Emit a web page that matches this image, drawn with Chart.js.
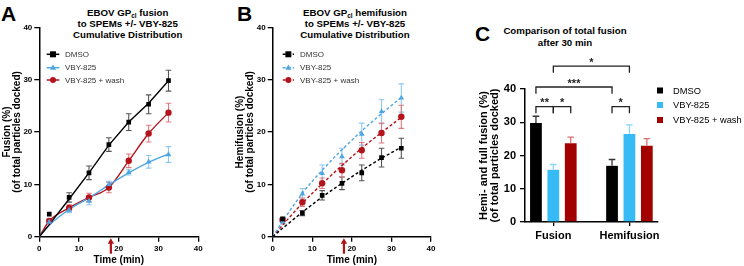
<!DOCTYPE html>
<html><head><meta charset="utf-8">
<script src="https://cdn.jsdelivr.net/npm/chart.js@4.4.1/dist/chart.umd.min.js"></script>
<style>
html,body{margin:0;padding:0;background:#fff;}
body{width:744px;height:266px;position:relative;overflow:hidden;font-family:'Liberation Sans',Arial,sans-serif;}
canvas{position:absolute;top:0;}
.letter{position:absolute;font-weight:bold;font-size:21px;line-height:1;color:#000;}
.title{position:absolute;width:200px;font-weight:bold;font-size:9.7px;line-height:11.2px;text-align:center;color:#000;white-space:nowrap;}
.title sub{font-size:6.5px;vertical-align:-2px;line-height:0;}
</style></head><body>
<div class="letter" style="left:1px;top:3px">A</div>
<div class="letter" style="left:237px;top:3px">B</div>
<div class="letter" style="left:475px;top:23px">C</div>
<div class="title" style="left:27.7px;top:7px">EBOV GP<sub>cl</sub> fusion<br>to SPEMs +/- VBY-825<br>Cumulative Distribution</div>
<div class="title" style="left:255px;top:7px">EBOV GP<sub>cl</sub> hemifusion<br>to SPEMs +/- VBY-825<br>Cumulative Distribution</div>
<div class="title" style="left:465px;top:25.3px">Comparison of total fusion<br>after 30 min</div>
<canvas id="cA" width="233" height="266" style="left:0;width:233px;height:266px"></canvas>
<canvas id="cB" width="233" height="266" style="left:233px;width:233px;height:266px"></canvas>
<canvas id="cC" width="278" height="266" style="left:466px;width:278px;height:266px"></canvas>
<script>
// ---------- data ----------
const seriesNames = ['DMSO', 'VBY-825', 'VBY-825 + wash'];
const times = [2.5, 7.5, 12.5, 17.5, 22.5, 27.5, 32.5];
const fitTimes = [0, 2.5, 7.5, 12.5, 17.5, 22.5, 27.5, 32.5];
const timeTicks = [0, 10, 20, 30, 40];
const percentTicks = [0, 10, 20, 30, 40];
const washTime = 18;

// Panel A: fusion
const fusionDMSO = [4.3, 7.5, 12.2, 17.6, 21.9, 25.3, 29.8];
const fusionDMSOErr = [0, 0.9, 1.3, 1.3, 1.6, 1.8, 2.0];
const fusionVBY = [2.8, 5.1, 6.8, 10.0, 12.3, 14.3, 15.7];
const fusionVBYErr = [0.3, 0.5, 0.7, 0.6, 0.5, 1.2, 1.5];
const fusionWash = [3.0, 5.5, 7.5, 9.4, 14.5, 19.7, 23.7];
const fusionWashErr = [0.3, 0.6, 0.8, 1.0, 1.3, 1.6, 1.8];
const fusionDMSOFit = [0, 2.3, 7.2, 12.2, 17.5, 21.9, 25.5, 29.8];
const fusionVBYFit = [0, 2.2, 5.2, 7.4, 9.9, 12.2, 14.2, 15.8];
const fusionWashFit = [0, 3.0, 5.5, 7.5, 9.4, 14.5, 19.7, 23.7];

// Panel B: hemifusion
const hemiDMSO = [3.4, 4.5, 7.9, 10.2, 12.2, 15.1, 16.9];
const hemiDMSOErr = [0.2, 0.5, 0.9, 1.2, 1.5, 1.8, 1.9];
const hemiVBY = [2.9, 8.2, 12.1, 15.3, 19.6, 23.9, 26.5];
const hemiVBYErr = [0.5, 1.0, 1.6, 1.6, 2.1, 2.3, 2.7];
const hemiWash = [3.2, 6.6, 10.2, 12.7, 16.5, 19.8, 22.9];
const hemiWashErr = [0.3, 0.8, 1.0, 1.3, 1.5, 1.9, 2.2];
const hemiDMSOFit = [0, 1.6, 4.7, 7.6, 10.2, 12.7, 15.0, 17.1];
const hemiVBYFit = [0, 2.9, 8.3, 12.7, 16.6, 20.2, 23.5, 26.6];
const hemiWashFit = [0, 2.2, 6.4, 10.1, 13.6, 16.9, 19.9, 22.8];

// Panel C: totals after 30 min
const groups = ['Fusion', 'Hemifusion'];
const totalDMSO = [29.8, 16.9];
const totalDMSOErr = [2.0, 1.9];
const totalVBY = [15.7, 26.5];
const totalVBYErr = [1.6, 2.7];
const totalWash = [23.7, 22.9];
const totalWashErr = [1.8, 2.2];
// significance: [dataset, group] -> [dataset, group], bracket level (%), label
const sigBrackets = [
  {from: [0, 0], to: [1, 0], level: 34.7, label: '**'},
  {from: [1, 0], to: [2, 0], level: 34.7, label: '*'},
  {from: [0, 1], to: [1, 1], level: 34.7, label: '*'},
  {from: [0, 0], to: [0, 1], level: 40.6, label: '***'},
  {from: [1, 0], to: [1, 1], level: 46.9, label: '*'}
];

// ---------- styles ----------
const FONT = "'Liberation Sans', Arial, sans-serif";
Chart.defaults.font.family = FONT;
const BLACK = '#000000', BLUE = '#4ea6e2', RED = '#b3141c';
const BLACK_E = '#555555', BLUE_E = '#8dc9f0', RED_E = '#dc7c80';
const C_BLACK = '#000000', C_CYAN = '#36bbf7', C_RED = '#a30000';
const C_BLACK_E = '#333333', C_CYAN_E = '#86d6fb', C_RED_E = '#d77070';

const xy = (xs, ys) => xs.map((x, i) => ({x, y: ys[i]}));

function drawErrors(chart, opts) {
  const ctx = chart.ctx, ys = chart.scales.y;
  chart.data.datasets.forEach((ds, di) => {
    if (!ds.errors) return;
    const meta = chart.getDatasetMeta(di);
    ctx.save();
    ctx.strokeStyle = ds.errorColor;
    ctx.lineWidth = opts.width;
    meta.data.forEach((el, i) => {
      const e = ds.errors[i];
      if (!e) return;
      const raw = ds.data[i];
      const v = typeof raw === 'object' ? raw.y : raw;
      const x = el.x;
      const yTop = ys.getPixelForValue(v + e);
      const yBot = opts.upOnly ? el.y : ys.getPixelForValue(v - e);
      ctx.beginPath();
      ctx.moveTo(x, yBot); ctx.lineTo(x, yTop);
      ctx.moveTo(x - opts.cap, yTop); ctx.lineTo(x + opts.cap, yTop);
      if (!opts.upOnly) { ctx.moveTo(x - opts.cap, yBot); ctx.lineTo(x + opts.cap, yBot); }
      ctx.stroke();
    });
    ctx.restore();
  });
}

function drawMarker(ctx, style, x, y, r, color) {
  ctx.fillStyle = color;
  ctx.beginPath();
  if (style === 'rect') { ctx.rect(x - r, y - r, 2 * r, 2 * r); }
  else if (style === 'triangle') {
    ctx.moveTo(x, y - r * 1.1); ctx.lineTo(x + r, y + r * 0.7); ctx.lineTo(x - r, y + r * 0.7); ctx.closePath();
  } else { ctx.arc(x, y, r, 0, Math.PI * 2); }
  ctx.fill();
}

function lineLegend(entries, x1, x2, textX, ys, dash) {
  return {
    id: 'lineLegend',
    afterDraw(chart) {
      const ctx = chart.ctx;
      ctx.save();
      entries.forEach((en, i) => {
        const y = ys[i];
        ctx.strokeStyle = en.color; ctx.lineWidth = 1.5;
        ctx.setLineDash(dash || []);
        ctx.beginPath(); ctx.moveTo(x1, y); ctx.lineTo(x2, y); ctx.stroke();
        ctx.setLineDash([]);
        drawMarker(ctx, en.style, (x1 + x2) / 2, y, en.r, en.color);
        ctx.fillStyle = '#333';
        ctx.font = '8px ' + FONT;
        ctx.textBaseline = 'middle'; ctx.textAlign = 'left';
        ctx.fillText(en.name, textX, y + 0.5);
      });
      ctx.restore();
    }
  };
}

const arrowPlugin = {
  id: 'washArrow',
  afterDraw(chart) {
    const ctx = chart.ctx, x = chart.scales.x.getPixelForValue(washTime);
    const yb = chart.chartArea.bottom;
    ctx.save();
    ctx.strokeStyle = '#b01218'; ctx.fillStyle = '#b01218'; ctx.lineWidth = 2.2;
    ctx.beginPath(); ctx.moveTo(x, yb + 17); ctx.lineTo(x, yb + 6); ctx.stroke();
    ctx.beginPath(); ctx.moveTo(x, yb + 1.5); ctx.lineTo(x + 3.2, yb + 7); ctx.lineTo(x - 3.2, yb + 7); ctx.closePath(); ctx.fill();
    ctx.restore();
  }
};

const errorPlugin = {
  id: 'errorBars',
  beforeDatasetsDraw(chart, args, opts) { if (!opts.after) drawErrors(chart, opts); },
  afterDatasetsDraw(chart, args, opts) { if (opts.after) drawErrors(chart, opts); }
};

function axisCommon(tickSize) {
  return {
    grid: {drawOnChartArea: false, drawTicks: true, tickLength: 5, color: '#000', lineWidth: 1.3},
    border: {color: '#000', width: 1.5},
    ticks: {color: '#000', font: {size: tickSize, weight: 'bold'}, padding: 2}
  };
}

function timeChart(canvasId, cfg) {
  const xAxis = axisCommon(8);
  const yAxis = axisCommon(8);
  return new Chart(document.getElementById(canvasId), {
    type: 'line',
    data: {
      datasets: [
        {data: xy(times, cfg.pts[0]), errors: cfg.errs[0], errorColor: BLACK_E, showLine: false, pointStyle: 'rect', pointRadius: 3.3, backgroundColor: BLACK, borderColor: BLACK, borderWidth: 0},
        {data: xy(times, cfg.pts[1]), errors: cfg.errs[1], errorColor: BLUE_E, showLine: false, pointStyle: 'triangle', pointRadius: 3.3, backgroundColor: BLUE, borderColor: BLUE, borderWidth: 0},
        {data: xy(times, cfg.pts[2]), errors: cfg.errs[2], errorColor: RED_E, showLine: false, pointStyle: 'circle', pointRadius: 3.2, backgroundColor: RED, borderColor: RED, borderWidth: 0},
        {data: xy(fitTimes, cfg.fits[0]), borderColor: BLACK, borderWidth: 1.4, pointRadius: 0, borderDash: cfg.dash, tension: 0},
        {data: xy(fitTimes, cfg.fits[1]), borderColor: BLUE, borderWidth: 1.4, pointRadius: 0, borderDash: cfg.dash, cubicInterpolationMode: 'monotone'},
        {data: xy(fitTimes, cfg.fits[2]), borderColor: RED, borderWidth: 1.4, pointRadius: 0, borderDash: cfg.dash, cubicInterpolationMode: 'monotone'}
      ]
    },
    options: {
      responsive: false, animation: false,
      layout: {padding: {left: 0, top: 27.3, right: cfg.padRight, bottom: 0}},
      plugins: {legend: {display: false}, tooltip: {enabled: false}, errorBars: {width: 1.1, cap: 2.8, after: false}},
      scales: {
        x: Object.assign(xAxis, {
          type: 'linear', min: 0, max: 40,
          afterFit: s => { s.height = 29.3; },
          afterBuildTicks: s => { s.ticks = timeTicks.map(v => ({value: v})); },
          title: {display: true, text: 'Time (min)', color: '#000', font: {size: 10, weight: 'bold', lineHeight: 1}, padding: {top: 0, bottom: 1}}
        }),
        y: Object.assign(yAxis, {
          min: 0, max: 40,
          afterFit: s => { s.width = cfg.yWidth; },
          afterBuildTicks: s => { s.ticks = percentTicks.map(v => ({value: v})); },
          title: {display: true, text: cfg.yTitle, color: '#000', font: {size: 10, weight: 'bold', lineHeight: 1}, padding: {top: 2, bottom: 0}}
        })
      }
    },
    plugins: [errorPlugin, arrowPlugin, cfg.legend]
  });
}

const legendEntries = [
  {name: seriesNames[0], color: BLACK, style: 'rect', r: 3},
  {name: seriesNames[1], color: BLUE, style: 'triangle', r: 3},
  {name: seriesNames[2], color: RED, style: 'circle', r: 3}
];

timeChart('cA', {
  pts: [fusionDMSO, fusionVBY, fusionWash],
  errs: [fusionDMSOErr, fusionVBYErr, fusionWashErr],
  fits: [fusionDMSOFit, fusionVBYFit, fusionWashFit],
  dash: [], padRight: 34.7, yWidth: 39.3,
  yTitle: ['Fusion (%)', '(of total particles docked)'],
  legend: lineLegend(legendEntries, 46.7, 59.3, 65, [54.3, 67.7, 80], [])
});

timeChart('cB', {
  pts: [hemiDMSO, hemiVBY, hemiWash],
  errs: [hemiDMSOErr, hemiVBYErr, hemiWashErr],
  fits: [hemiDMSOFit, hemiVBYFit, hemiWashFit],
  dash: [3, 2.2], padRight: 35, yWidth: 39.7,
  yTitle: ['Hemifusion (%)', '(of total particles docked)'],
  legend: lineLegend(legendEntries, 49.7, 61, 67, [54.3, 67.7, 80], [3, 2])
});

// ---------- Panel C ----------
const bracketPlugin = {
  id: 'sigBrackets',
  afterDraw(chart) {
    const ctx = chart.ctx, ys = chart.scales.y;
    ctx.save();
    ctx.strokeStyle = '#222'; ctx.lineWidth = 1.3; ctx.fillStyle = '#222';
    ctx.font = 'bold 11px ' + FONT; ctx.textAlign = 'center'; ctx.textBaseline = 'alphabetic';
    sigBrackets.forEach(b => {
      const xa = chart.getDatasetMeta(b.from[0]).data[b.from[1]].x;
      const xb = chart.getDatasetMeta(b.to[0]).data[b.to[1]].x;
      const y = ys.getPixelForValue(b.level), yl = ys.getPixelForValue(b.level - 2);
      ctx.beginPath(); ctx.moveTo(xa, yl); ctx.lineTo(xa, y); ctx.lineTo(xb, y); ctx.lineTo(xb, yl); ctx.stroke();
      ctx.fillText(b.label, (xa + xb) / 2, y - 0.5);
    });
    // legend
    const colors = [C_BLACK, C_CYAN, C_RED], ly = [90.5, 105, 120];
    ctx.font = '9.3px ' + FONT; ctx.textAlign = 'left'; ctx.textBaseline = 'middle';
    colors.forEach((c, i) => {
      ctx.fillStyle = c; ctx.fillRect(191, ly[i] - 3, 6, 6);
      ctx.fillStyle = '#000'; ctx.fillText(seriesNames[i], 207, ly[i] + 0.5);
    });
    ctx.restore();
  }
};

const cx = axisCommon(11), cy = axisCommon(11);
new Chart(document.getElementById('cC'), {
  type: 'bar',
  data: {
    labels: groups,
    datasets: [
      {label: seriesNames[0], data: totalDMSO, errors: totalDMSOErr, errorColor: C_BLACK_E, backgroundColor: C_BLACK},
      {label: seriesNames[1], data: totalVBY, errors: totalVBYErr, errorColor: C_CYAN_E, backgroundColor: C_CYAN},
      {label: seriesNames[2], data: totalWash, errors: totalWashErr, errorColor: C_RED_E, backgroundColor: C_RED}
    ]
  },
  options: {
    responsive: false, animation: false,
    datasets: {bar: {categoryPercentage: 0.686, barPercentage: 0.676}},
    layout: {padding: {left: 0, top: 89, right: 86, bottom: 0}},
    plugins: {legend: {display: false}, tooltip: {enabled: false}, errorBars: {width: 1.3, cap: 3.3, after: true, upOnly: true}},
    scales: {
      x: Object.assign(cx, {
        grid: {offset: false, drawOnChartArea: false, drawTicks: true, tickLength: 4, color: '#000', lineWidth: 1.3},
        ticks: {color: '#000', font: {size: 11, weight: 'bold'}, padding: 3},
        afterFit: s => { s.height = 44; },
        afterBuildTicks: s => { s._startValue = -0.3725; s._valueRange = 1.748; }
      }),
      y: Object.assign(cy, {
        min: 0, max: 40,
        ticks: {color: '#000', font: {size: 11, weight: 'bold'}, padding: 4},
        afterFit: s => { s.width = 59; },
        afterBuildTicks: s => { s.ticks = percentTicks.map(v => ({value: v})); },
        title: {display: true, text: ['Hemi- and full fusion (%)', '(of total particles docked)'], color: '#000', font: {size: 11, weight: 'bold', lineHeight: 1}, padding: {top: 12, bottom: 0}}
      })
    }
  },
  plugins: [errorPlugin, bracketPlugin]
});
</script>
</body></html>
